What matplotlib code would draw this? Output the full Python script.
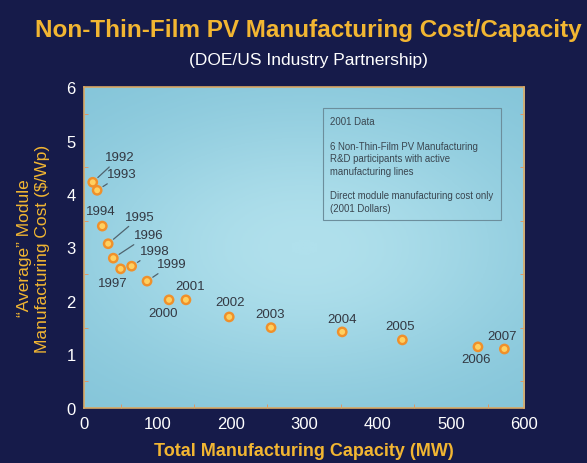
import numpy as np
import matplotlib
matplotlib.use("Agg")
import matplotlib.pyplot as plt

plt.rcParams["font.family"] = ["Liberation Sans", "DejaVu Sans"]

# data
years = ["1992", "1993", "1994", "1995", "1996", "1997", "1998", "1999",
         "2000", "2001", "2002", "2003", "2004", "2005", "2006", "2007"]
capacity_mw = [12, 18, 25, 33, 40, 50, 65, 86,
               116, 139, 198, 255, 352, 434, 537, 573]
cost_per_wp = [4.22, 4.07, 3.40, 3.07, 2.80, 2.60, 2.65, 2.37,
               2.02, 2.02, 1.70, 1.50, 1.42, 1.27, 1.14, 1.10]
# label offsets (pixels) and whether a leader line is drawn
label_dx = [27, 25, -2, 32, 35, -8, 23, 25, -6, 4, 1, -1, 0, -2, -2, -2]
label_dy = [25, 16, 15, 27, 23, -14, 15, 17, -13, 14, 15, 14, 13, 14, -12, 13]
leader = [True, True, False, True, True, False, True, True,
          False, False, False, False, False, False, False, False]

x_ticks = [0, 100, 200, 300, 400, 500, 600]
y_ticks = [0, 1, 2, 3, 4, 5, 6]

NAVY = "#161b4a"
GOLD = "#f2b632"

fig = plt.figure(figsize=(5.87, 4.64), dpi=100, facecolor=NAVY)
ax = fig.add_axes([0.143, 0.119, 0.750, 0.691])

# soft light-blue panel with a brighter centre
gx, gy = np.meshgrid(np.linspace(-1, 1, 200), np.linspace(-1, 1, 200))
glow = np.exp(-(gx ** 2 * 0.8 + gy ** 2 * 1.2))
ax.imshow(glow, extent=[0, 600, 0, 6], aspect="auto", origin="lower",
          cmap=matplotlib.colors.LinearSegmentedColormap.from_list(
              "panel", ["#86c6da", "#b0e0ec"]), zorder=0)

ax.set_xlim(0, 600)
ax.set_ylim(0, 6)
ax.set_xticks(x_ticks)
ax.set_yticks(y_ticks)
ax.set_xticks(np.arange(0, 601, 50), minor=True)
ax.set_yticks(np.arange(0, 6.01, 0.5), minor=True)
ax.tick_params(colors="white", labelsize=12, length=0, pad=6)
ax.tick_params(which="minor", length=3, color="#e8905a", direction="in",
               right=True)
for s in ax.spines.values():
    s.set_color("#d9a864")
    s.set_linewidth(1.2)

ax.scatter(capacity_mw, cost_per_wp, s=60, color="#f0902a",
           edgecolors="none", zorder=3)
ax.scatter(capacity_mw, cost_per_wp, s=18, color="#ffd060",
           edgecolors="none", zorder=4)

for yr, x, y, dx, dy, ln in zip(years, capacity_mw, cost_per_wp,
                                label_dx, label_dy, leader):
    ax.annotate(yr, (x, y), xytext=(dx, dy), textcoords="offset pixels",
                ha="center", va="center", fontsize=9.5, color="#333842",
                arrowprops=dict(arrowstyle="-", color="#4f636e", lw=0.9,
                                shrinkA=1, shrinkB=5) if ln else None,
                zorder=5)

note = ("2001 Data\n\n"
        "6 Non-Thin-Film PV Manufacturing\n"
        "R&D participants with active\n"
        "manufacturing lines\n\n"
        "Direct module manufacturing cost only\n"
        "(2001 Dollars)")
ax.text(0.56, 0.91, note, transform=ax.transAxes, ha="left", va="top",
        fontsize=6.9, color="#3a4650", linespacing=1.3,
        bbox=dict(boxstyle="square,pad=0.8", fc="none", ec="#6c8e9c", lw=0.8))

fig.text(0.525, 0.935, "Non-Thin-Film PV Manufacturing Cost/Capacity",
         ha="center", va="center", fontsize=17.5, fontweight="bold", color=GOLD)
fig.text(0.525, 0.87, "(DOE/US Industry Partnership)", ha="center",
         va="center", fontsize=12.5, color="white")
ax.set_xlabel("Total Manufacturing Capacity (MW)", color=GOLD, fontsize=13,
              fontweight="bold", labelpad=8)
ax.set_ylabel("\u201cAverage\u201d Module\nManufacturing Cost ($/Wp)",
              color=GOLD, fontsize=12.5, labelpad=12)

fig.savefig("out.png", dpi=100, facecolor=NAVY)
